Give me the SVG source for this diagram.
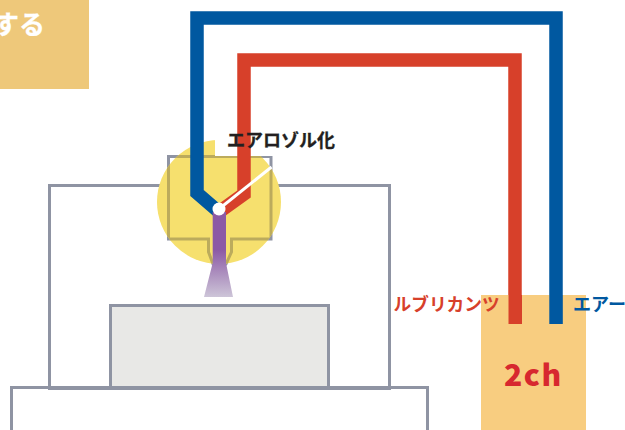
<svg xmlns="http://www.w3.org/2000/svg" width="625" height="430" viewBox="0 0 625 430">
<style>
.g{fill:none;stroke:#8f94a3;stroke-width:3}
.p{fill:none;stroke-width:13.5;stroke-linejoin:miter}
text{font-family:"Noto Sans CJK JP","Noto Sans",sans-serif;font-weight:700}
</style>
<defs>
<linearGradient id="sp" gradientUnits="userSpaceOnUse" x1="0" y1="250" x2="0" y2="297"><stop offset="0" stop-color="#8c5aa5"/><stop offset="1" stop-color="#cdc5d8"/></linearGradient>
<clipPath id="cc"><circle cx="219" cy="202" r="62"/></clipPath>
</defs>
<rect width="625" height="430" fill="#fff"/>
<g id="title"><rect x="0" y="0" width="89" height="89" fill="#eec87a"/><text x="-7" y="34" font-size="26" stroke="#fff" stroke-width=".3" fill="#fff">する</text></g>
<g id="chamber"><rect class="g" x="49.500" y="185.500" width="340" height="203"/></g>
<g id="base"><rect class="g" x="11.500" y="387.500" width="416" height="50" fill="#fff"/></g>
<g id="stage"><rect x="110.500" y="305.500" width="218" height="82" fill="#e8e8e6" stroke="#8f94a3" stroke-width="3"/></g>
<g id="head">
<path d="M168.500 156.500H271V239H231.500V252L226 264H213L208.500 252V239H168.500Z" fill="#fff" stroke="#8f94a3" stroke-width="3"/>
<circle cx="219" cy="202" r="62" fill="#f6e06e"/>
<path d="M168.500 156.500H271V239H231.500V252L226 264H213L208.500 252V239H168.500Z" fill="none" stroke="#bcab5c" stroke-width="3" clip-path="url(#cc)"/>
<rect x="215" y="130" width="125" height="26" fill="#fff"/>
</g>
<g id="connectors">
<path class="p" stroke="#d7402a" d="M515 324V60H244V194L219 212"/>
<path class="p" stroke="#0058a0" d="M556 324V18H197V193L219 212"/>
<path d="M212.700 212H226V263L233 297H204L212.700 263Z" fill="url(#sp)"/>
<path d="M219 209L271.500 167" stroke="#fff" stroke-width="3" fill="none"/>
<circle cx="219" cy="209" r="6.500" fill="#fff"/>
</g>
<g id="supply"><rect x="481" y="295" width="105" height="135" fill="#f8cd80"/>
<rect x="508.500" y="295" width="13.500" height="29" fill="#d7402a"/>
<rect x="549.300" y="295" width="13.500" height="29" fill="#0058a0"/>
<text x="504" y="386" font-size="30" font-weight="900" letter-spacing="1.500" fill="#d7282f" style="font-weight:900">2ch</text></g>
<g id="labels">
<text x="227" y="147" font-size="18" fill="#231f20" stroke="#231f20" stroke-width=".3">エアロゾル化</text>
<text x="393.500" y="311" font-size="17.700" fill="#d7402a">ルブリカンツ</text>
<text x="573" y="311" font-size="18" fill="#0058a0">エアー</text>
</g>
</svg>
